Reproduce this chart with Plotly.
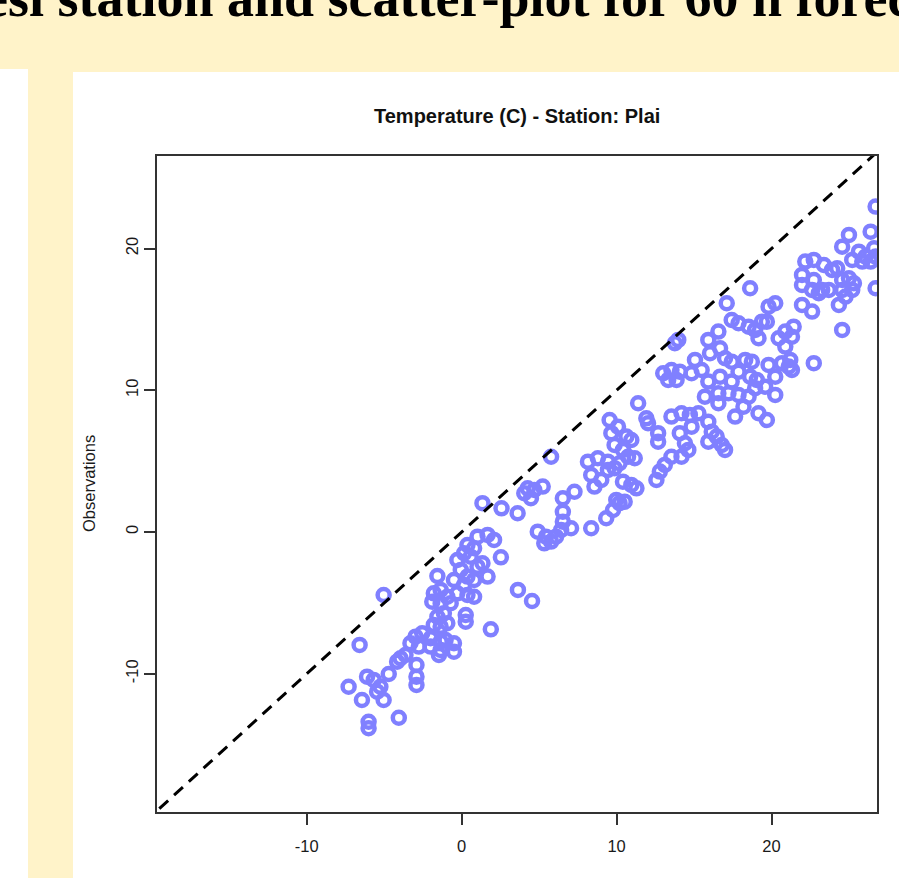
import plotly.graph_objects as go

# ---------------- data ----------------
forecast = [
    1.34, 2.57, 1.02, 1.67, 2.09, 0.37, 0.80, 2.53, -0.28, 0.15,
    0.58, 1.34, 1.02, -1.57, 1.67, -0.06, 0.37, 0.80, -0.50, 0.15,
    -1.80, -1.36, -0.93, -0.28, 0.37, 0.80, -1.90, -1.36, -0.71, 0.26,
    0.26, -1.57, -1.15, -1.80, -1.36, -0.93, 1.88, -5.04, -2.98, -2.55,
    -2.01, -1.36, -1.04, -0.50, -3.31, -2.77, -2.01, -1.36, -0.50, -1.47,
    -3.95, -3.63, -4.17, -2.92, -2.92, -2.92, -6.59, -6.11, -5.68, -4.71,
    -5.25, -5.46, -7.30, -6.44, -5.04, -4.06, -6.01, -6.01,
    5.77, 3.61, 4.26, 4.69, 5.23, 4.47, 4.04, 6.53, 7.28, 6.53,
    6.53, 6.42, 7.06, 4.91, 5.44, 5.77, 6.09, 5.33, 8.36, 9.33,
    9.77, 10.19, 10.52, 9.98, 8.15, 8.79, 8.36, 8.57, 9.01, 9.44,
    9.87, 10.41, 10.95, 11.28, 9.55, 10.09, 9.66, 10.63, 10.95, 9.87,
    10.41, 10.74, 11.17, 10.19, 9.44, 11.39, 11.92, 12.03, 3.63, 4.54,
    18.62, 17.11, 17.43, 17.87, 18.52, 18.94, 19.16, 16.57, 15.92, 16.68,
    16.03, 13.76, 13.98, 15.06, 14.84, 15.49, 17.00, 17.43, 18.30, 18.73,
    17.87, 18.62, 19.05, 16.68, 17.43, 15.92, 16.57, 15.70, 16.57, 17.22,
    17.87, 18.52, 18.19, 17.65, 18.94, 19.16, 13.01, 13.54, 14.08, 13.87,
    13.33, 12.68, 12.68, 13.54, 14.19, 14.73, 15.28, 14.84, 14.08, 14.41,
    15.92, 16.14, 16.46, 15.92, 16.79, 17.00, 14.63, 14.19, 13.54, 13.11,
    12.79, 12.57,
    26.72, 25.00, 26.40, 24.56, 25.64, 26.07, 26.62, 25.21, 25.86, 26.40,
    26.72, 26.72, 22.18, 22.73, 23.38, 24.24, 23.91, 21.97, 21.97, 22.73,
    22.62, 23.27, 23.70, 23.05, 24.56, 25.00, 25.32, 24.56, 25.21, 24.78,
    24.35, 22.62, 21.97, 24.56, 19.81, 20.24, 19.38, 19.70, 21.43, 20.89,
    20.46, 21.32, 20.89, 21.21, 20.67, 21.11, 21.32, 22.73, 19.81, 20.24,
    19.59, 20.24, 19.70,
]
observed = [
    2.03, 1.67, -0.33, -0.21, -0.56, -0.92, -1.15, -1.79, -1.98, -1.50,
    -1.74, -2.21, -2.45, -3.11, -3.15, -2.68, -3.15, -3.39, -3.39, -3.74,
    -4.33, -4.09, -4.57, -4.33, -4.45, -4.57, -4.92, -5.03, -5.03, -5.86,
    -6.33, -5.98, -5.74, -6.56, -6.68, -6.44, -6.87, -4.45, -7.39, -7.15,
    -7.50, -7.74, -7.62, -7.85, -7.85, -8.09, -8.09, -8.33, -8.45, -8.68,
    -8.91, -8.68, -9.15, -9.39, -10.21, -10.80, -7.97, -10.21, -10.44, -10.02,
    -10.92, -11.27, -10.92, -11.86, -11.86, -13.11, -13.39, -13.85,
    5.31, 1.32, 3.08, 2.96, 3.20, 2.38, 2.73, 2.38, 2.84, 1.43,
    0.73, 0.14, 0.26, 0.02, -0.33, -0.68, -0.33, -0.80, 0.26, 0.97,
    1.55, 2.03, 2.14, 2.26, 4.96, 5.20, 4.02, 3.20, 3.67, 4.38,
    4.50, 3.55, 3.32, 3.08, 7.90, 7.43, 6.97, 6.73, 6.49, 6.14,
    5.79, 5.31, 5.20, 4.85, 4.96, 9.08, 8.02, 7.67, -4.09, -4.87,
    17.20, 16.14, 14.96, 14.73, 14.49, 14.26, 13.67, 14.14, 13.55, 12.96,
    12.61, 13.32, 13.55, 12.14, 11.20, 11.43, 12.26, 12.02, 12.14, 12.02,
    11.31, 10.96, 10.73, 10.96, 10.61, 10.61, 9.79, 9.55, 9.08, 9.79,
    9.67, 9.55, 8.84, 8.14, 10.14, 8.38, 11.20, 11.43, 11.31, 10.73,
    10.73, 6.97, 6.37, 8.14, 8.38, 8.26, 8.38, 7.43, 6.97, 6.26,
    7.78, 7.08, 6.73, 6.37, 6.14, 5.79, 5.79, 5.31, 5.31, 4.73,
    4.26, 3.67,
    22.96, 20.96, 21.19, 20.13, 19.78, 19.43, 20.02, 19.20, 19.08, 19.08,
    19.43, 17.20, 19.08, 19.20, 18.84, 18.61, 18.49, 18.14, 17.43, 17.78,
    17.08, 17.08, 17.08, 16.85, 17.78, 17.90, 17.55, 17.08, 17.08, 16.61,
    16.02, 15.55, 16.02, 14.26, 15.90, 16.14, 14.84, 14.84, 14.49, 14.14,
    13.67, 13.78, 13.08, 12.14, 11.91, 11.67, 11.43, 11.91, 11.79, 10.96,
    10.25, 9.67, 7.90,
]
ref_line = [-30, 30]
x_ticks = [-10, 0, 10, 20]
y_ticks = [-10, 0, 10, 20]
title_text = "Temperature (C) - Station: Plai"
y_label = "Observations"
header_text = "esi station and scatter-plot for 60 h forecast"

# ---------------- layout geometry (pixels) ----------------
W, H = 899, 878
L, R, T, B = 157, 877, 156, 812


def pxx(x):
    return (x - L) / (R - L)


def pxy(y):
    return (B - y) / (B - T)


YELLOW = "#FFF3C9"
BOX = "#333333"
PT = "#8080FF"
FONT = "Liberation Sans, Arial, sans-serif"

fig = go.Figure()
fig.add_trace(go.Scatter(
    x=forecast, y=observed, mode="markers",
    marker=dict(symbol="circle-open", size=12, color=PT,
                line=dict(width=4.5, color=PT)),
    hoverinfo="skip", showlegend=False,
))
fig.add_trace(go.Scatter(
    x=ref_line, y=ref_line, mode="lines",
    line=dict(color="black", width=3, dash="12px,8px"),
    hoverinfo="skip", showlegend=False,
))

axis_common = dict(
    showgrid=False, zeroline=False, showline=True, mirror=True,
    linecolor=BOX, linewidth=1.6, ticks="outside", ticklen=11,
    tickwidth=1.5, tickcolor=BOX,
    tickfont=dict(family=FONT, size=16.5, color="#1a1a1a"),
)
fig.update_xaxes(range=[-19.67, 26.81], tickvals=x_ticks,
                 ticktext=[str(v) for v in x_ticks],
                 ticklabelstandoff=7, **axis_common)
fig.update_yaxes(range=[-19.76, 26.53], tickvals=y_ticks,
                 ticktext=[str(v) for v in y_ticks], tickangle=-90,
                 **axis_common)

shapes = [
    # header band
    dict(type="rect", xref="paper", yref="paper",
         x0=pxx(-5), x1=pxx(W + 5), y0=pxy(72), y1=pxy(-5),
         fillcolor=YELLOW, line=dict(width=0), layer="below"),
    # vertical strip at the left
    dict(type="rect", xref="paper", yref="paper",
         x0=pxx(28), x1=pxx(73), y0=pxy(H + 5), y1=pxy(70),
         fillcolor=YELLOW, line=dict(width=0), layer="below"),
    # white notch at the far left below the header
    dict(type="rect", xref="paper", yref="paper",
         x0=pxx(-5), x1=pxx(28), y0=pxy(H + 5), y1=pxy(69),
         fillcolor="white", line=dict(width=0), layer="below"),
]

annotations = [
    dict(text=header_text, xref="paper", yref="paper",
         x=pxx(-18), y=pxy(-2), xanchor="left", yanchor="middle",
         showarrow=False,
         font=dict(family="Liberation Serif, Times New Roman, serif",
                   size=54, color="black", weight="bold")),
    dict(text="<b>" + title_text + "</b>", xref="paper", yref="paper",
         x=pxx((L + R) / 2), y=pxy(116), xanchor="center", yanchor="middle",
         showarrow=False, font=dict(family=FONT, size=20, color="#111")),
    dict(text=y_label, xref="paper", yref="paper",
         x=pxx(89), y=pxy((T + B) / 2), xanchor="center", yanchor="middle",
         textangle=-90, showarrow=False,
         font=dict(family=FONT, size=16.5, color="#1a1a1a")),
]

fig.update_layout(
    width=W, height=H, autosize=False,
    margin=dict(l=L, r=W - R, t=T, b=H - B, pad=0),
    paper_bgcolor="white", plot_bgcolor="white",
    shapes=shapes, annotations=annotations, showlegend=False,
)

fig.write_html("out.html")
